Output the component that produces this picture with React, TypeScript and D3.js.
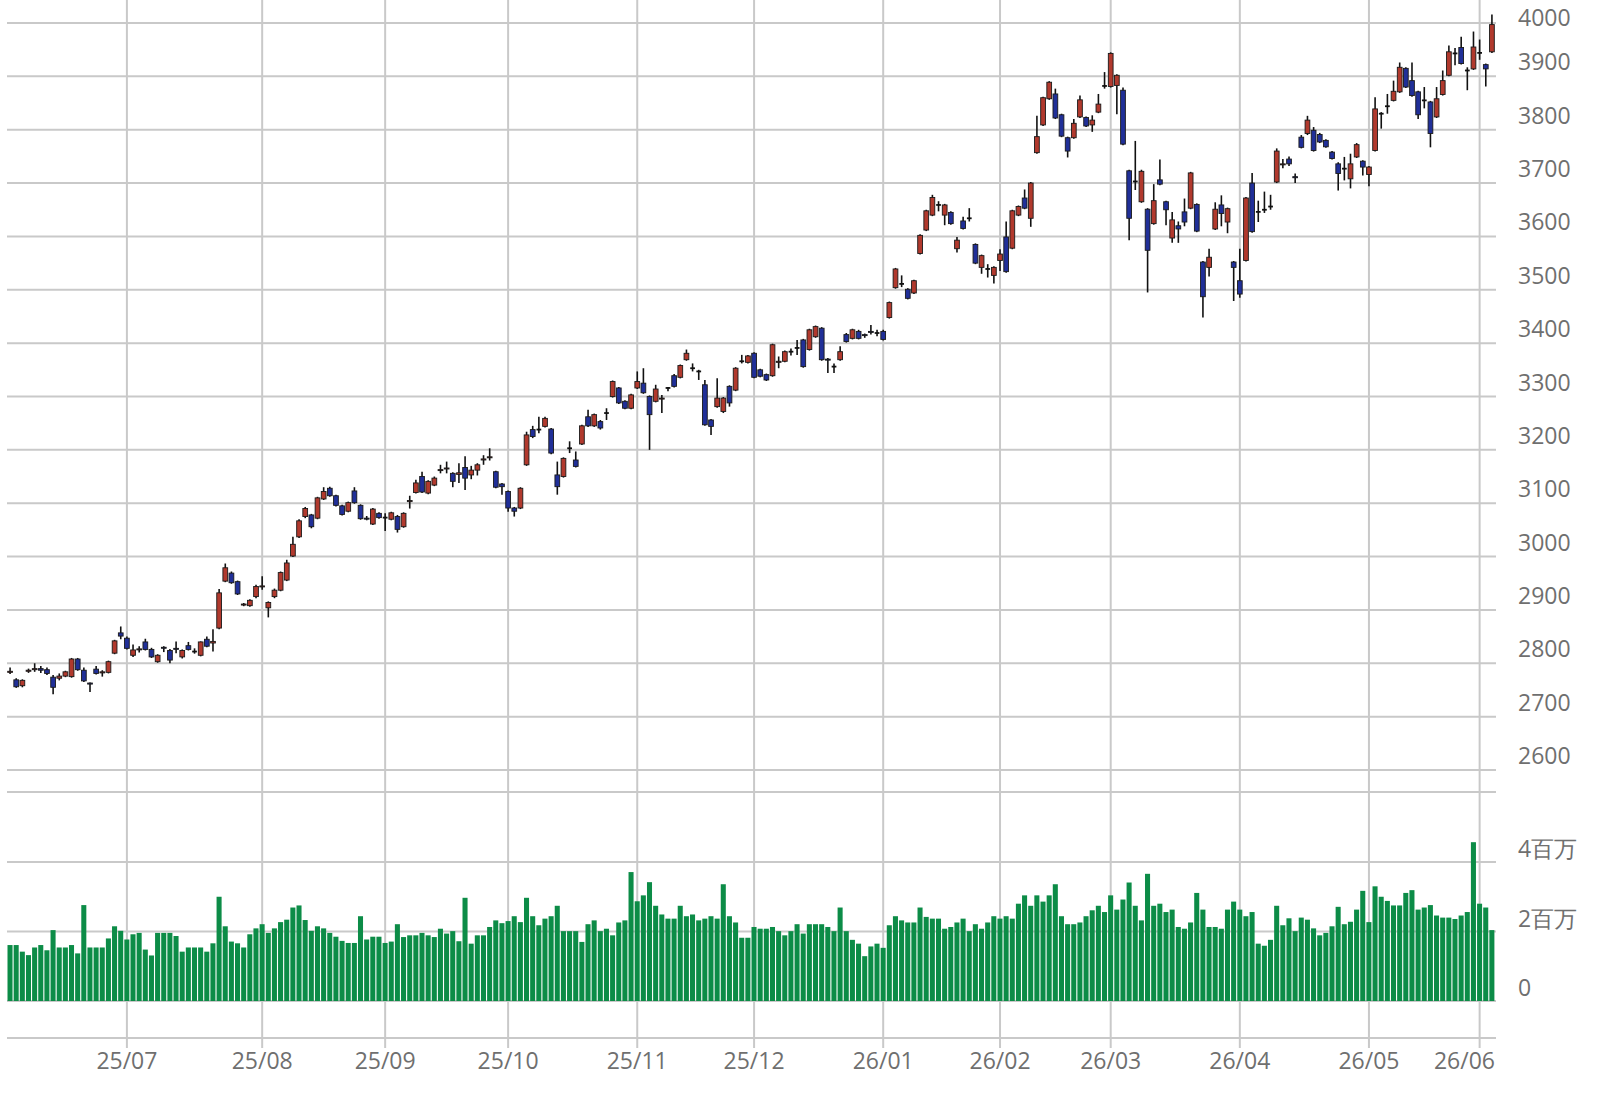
import * as d3 from "d3"
import React from "react"

// bars left in June 2025, then one count per month (Jul 2025 .. Jun 2026)
const monthBars = [19, 22, 20, 20, 21, 19, 21, 19, 18, 21, 21, 18, 3]
const monthLabels = ["25/07", "25/08", "25/09", "25/10", "25/11", "25/12", "26/01", "26/02", "26/03", "26/04", "26/05", "26/06"]

const priceTicks = [2600, 2700, 2800, 2900, 3000, 3100, 3200, 3300, 3400, 3500, 3600, 3700, 3800, 3900, 4000]
const volumeTicks = [0, 2, 4]
const volumeTickLabels = ["0", "2百万", "4百万"]

const open = [
  2783, 2769, 2758, 2785, 2788, 2790, 2788, 2774, 2772, 2776,
  2775, 2808, 2787, 2763, 2789, 2782, 2783, 2819, 2857, 2847,
  2815, 2826, 2840, 2826, 2803, 2830, 2824, 2828, 2812, 2833,
  2822, 2815, 2845, 2838, 2866, 2954, 2969, 2953, 2910, 2908,
  2925, 2944, 2904, 2925, 2937, 2956, 3001, 3037, 3075, 3078,
  3072, 3108, 3128, 3114, 3095, 3085, 3123, 3096, 3072, 3061,
  3081, 3073, 3070, 3075, 3056, 3103, 3120, 3150, 3119, 3134,
  3162, 3165, 3156, 3154, 3167, 3153, 3162, 3181, 3186, 3159,
  3136, 3122, 3091, 3091, 3172, 3238, 3238, 3244, 3239, 3153,
  3150, 3203, 3181, 3211, 3262, 3245, 3253, 3269, 3300, 3316,
  3291, 3278, 3316, 3325, 3300, 3291, 3296, 3316, 3339, 3336,
  3369, 3353, 3347, 3322, 3256, 3281, 3272, 3319, 3312, 3366,
  3364, 3381, 3350, 3341, 3339, 3364, 3366, 3384, 3391, 3406,
  3388, 3412, 3428, 3370, 3356, 3369, 3416, 3409, 3422, 3416,
  3422, 3419, 3422, 3448, 3504, 3511, 3501, 3494, 3568, 3612,
  3640, 3659, 3640, 3645, 3577, 3629, 3634, 3585, 3542, 3539,
  3527, 3555, 3599, 3578, 3640, 3672, 3634, 3757, 3809, 3858,
  3867, 3828, 3785, 3785, 3824, 3823, 3809, 3833, 3882, 3881,
  3883, 3874, 3723, 3703, 3665, 3651, 3624, 3706, 3665, 3597,
  3620, 3646, 3653, 3660, 3552, 3542, 3614, 3659, 3627, 3552,
  3517, 3555, 3700, 3646, 3650, 3656, 3702, 3735, 3745, 3712,
  3786, 3793, 3799, 3791, 3780, 3758, 3736, 3727, 3708, 3749,
  3741, 3716, 3761, 3830, 3844, 3855, 3871, 3915, 3892, 3871,
  3855, 3852, 3824, 3866, 3902, 3943, 3954, 3911, 3914, 3944,
  3922, 3946,
]

const high = [
  2792, 2772, 2770, 2790, 2800, 2795, 2792, 2778, 2781, 2786,
  2810, 2810, 2792, 2764, 2795, 2787, 2805, 2844, 2869, 2850,
  2835, 2832, 2846, 2829, 2817, 2832, 2827, 2841, 2826, 2840,
  2828, 2841, 2850, 2864, 2939, 2987, 2972, 2955, 2913, 2920,
  2947, 2963, 2916, 2940, 2972, 2994, 3037, 3070, 3093, 3080,
  3112, 3130, 3131, 3116, 3097, 3103, 3130, 3098, 3076, 3091,
  3083, 3081, 3084, 3078, 3083, 3114, 3144, 3159, 3143, 3150,
  3172, 3178, 3158, 3175, 3188, 3170, 3175, 3190, 3203, 3161,
  3138, 3124, 3093, 3130, 3234, 3245, 3262, 3262, 3241, 3178,
  3186, 3216, 3197, 3247, 3275, 3268, 3256, 3278, 3330, 3318,
  3293, 3305, 3347, 3353, 3302, 3322, 3303, 3318, 3342, 3360,
  3388, 3362, 3350, 3331, 3258, 3334, 3299, 3321, 3355, 3378,
  3378, 3383, 3352, 3343, 3399, 3375, 3386, 3390, 3406, 3408,
  3427, 3433, 3430, 3372, 3362, 3394, 3419, 3427, 3425, 3418,
  3434, 3425, 3425, 3478, 3541, 3527, 3503, 3519, 3604, 3650,
  3678, 3666, 3661, 3647, 3599, 3637, 3653, 3587, 3566, 3548,
  3544, 3576, 3628, 3650, 3658, 3688, 3702, 3826, 3862, 3891,
  3877, 3830, 3787, 3820, 3864, 3825, 3827, 3867, 3908, 3945,
  3904, 3879, 3725, 3779, 3725, 3653, 3698, 3744, 3667, 3646,
  3628, 3671, 3721, 3662, 3554, 3577, 3664, 3677, 3654, 3554,
  3577, 3674, 3719, 3667, 3684, 3678, 3765, 3745, 3750, 3718,
  3790, 3826, 3805, 3794, 3782, 3760, 3739, 3749, 3755, 3775,
  3743, 3732, 3861, 3833, 3867, 3892, 3926, 3917, 3926, 3873,
  3880, 3854, 3880, 3911, 3958, 3953, 3974, 3917, 3984, 3969,
  3924, 4016,
]

const low = [
  2780, 2754, 2755, 2782, 2784, 2782, 2778, 2742, 2768, 2774,
  2773, 2786, 2765, 2746, 2779, 2775, 2781, 2817, 2845, 2826,
  2812, 2820, 2824, 2810, 2801, 2821, 2800, 2819, 2809, 2824,
  2818, 2813, 2830, 2822, 2864, 2952, 2949, 2928, 2907, 2906,
  2922, 2938, 2886, 2922, 2935, 2954, 2999, 3035, 3072, 3053,
  3070, 3106, 3112, 3094, 3077, 3083, 3099, 3069, 3068, 3059,
  3071, 3048, 3068, 3045, 3054, 3090, 3118, 3119, 3117, 3132,
  3156, 3156, 3130, 3138, 3125, 3145, 3152, 3172, 3180, 3128,
  3116, 3084, 3075, 3089, 3170, 3222, 3231, 3242, 3192, 3116,
  3148, 3194, 3167, 3209, 3243, 3243, 3238, 3256, 3298, 3286,
  3276, 3276, 3314, 3305, 3200, 3289, 3269, 3310, 3317, 3334,
  3367, 3347, 3331, 3245, 3228, 3279, 3269, 3281, 3310, 3362,
  3362, 3334, 3336, 3329, 3337, 3353, 3364, 3377, 3378, 3354,
  3386, 3410, 3367, 3344, 3344, 3367, 3401, 3407, 3407, 3410,
  3416, 3413, 3405, 3446, 3502, 3505, 3482, 3492, 3566, 3610,
  3638, 3647, 3621, 3622, 3570, 3613, 3628, 3548, 3530, 3523,
  3512, 3535, 3532, 3576, 3638, 3651, 3618, 3755, 3807, 3856,
  3820, 3786, 3748, 3783, 3822, 3805, 3796, 3831, 3877, 3879,
  3829, 3771, 3593, 3687, 3663, 3495, 3622, 3696, 3621, 3588,
  3588, 3619, 3651, 3608, 3448, 3525, 3612, 3619, 3606, 3479,
  3485, 3553, 3607, 3627, 3644, 3650, 3700, 3728, 3732, 3700,
  3765, 3790, 3759, 3775, 3766, 3744, 3686, 3705, 3690, 3747,
  3714, 3694, 3759, 3802, 3830, 3853, 3869, 3878, 3862, 3820,
  3840, 3767, 3822, 3864, 3900, 3921, 3922, 3874, 3912, 3931,
  3881, 3944,
]

const close = [
  2785, 2756, 2768, 2787, 2790, 2787, 2781, 2755, 2776, 2784,
  2808, 2788, 2767, 2761, 2781, 2784, 2803, 2842, 2851, 2828,
  2825, 2827, 2826, 2812, 2815, 2829, 2806, 2827, 2824, 2826,
  2822, 2840, 2832, 2841, 2932, 2979, 2951, 2930, 2911, 2918,
  2944, 2945, 2914, 2937, 2970, 2988, 3023, 3067, 3090, 3056,
  3110, 3122, 3114, 3096, 3079, 3101, 3101, 3071, 3071, 3089,
  3073, 3073, 3082, 3051, 3081, 3105, 3138, 3121, 3141, 3147,
  3163, 3166, 3141, 3157, 3147, 3162, 3172, 3183, 3187, 3130,
  3131, 3091, 3085, 3128, 3228, 3225, 3238, 3259, 3194, 3131,
  3184, 3203, 3169, 3245, 3245, 3266, 3241, 3269, 3328, 3288,
  3278, 3303, 3328, 3307, 3266, 3314, 3297, 3316, 3319, 3358,
  3381, 3353, 3347, 3247, 3244, 3297, 3297, 3288, 3353, 3366,
  3376, 3336, 3338, 3331, 3397, 3366, 3384, 3384, 3391, 3356,
  3425, 3431, 3369, 3369, 3356, 3384, 3403, 3425, 3409, 3415,
  3421, 3419, 3407, 3476, 3539, 3511, 3484, 3517, 3602, 3648,
  3673, 3659, 3659, 3624, 3593, 3615, 3634, 3550, 3564, 3539,
  3542, 3567, 3534, 3648, 3656, 3653, 3700, 3787, 3860, 3889,
  3822, 3788, 3760, 3812, 3856, 3807, 3818, 3848, 3882, 3943,
  3902, 3773, 3634, 3703, 3722, 3574, 3667, 3698, 3650, 3631,
  3614, 3627, 3719, 3610, 3487, 3561, 3651, 3643, 3652, 3542,
  3492, 3672, 3609, 3646, 3650, 3656, 3760, 3736, 3736, 3710,
  3767, 3818, 3761, 3777, 3768, 3746, 3718, 3727, 3736, 3772,
  3730, 3730, 3839, 3830, 3844, 3872, 3917, 3880, 3864, 3828,
  3855, 3793, 3858, 3892, 3946, 3943, 3924, 3911, 3955, 3944,
  3914, 3997,
]

// volume, millions of shares
const volume = [
  1.61, 1.61, 1.42, 1.32, 1.54, 1.61, 1.46, 2.04, 1.54, 1.54,
  1.61, 1.37, 2.76, 1.54, 1.54, 1.54, 1.80, 2.15, 2.02, 1.77,
  1.92, 1.96, 1.48, 1.31, 1.96, 1.96, 1.96, 1.87, 1.42, 1.54,
  1.54, 1.54, 1.42, 1.66, 3.00, 2.15, 1.71, 1.66, 1.54, 1.92,
  2.09, 2.21, 1.96, 2.09, 2.27, 2.34, 2.69, 2.75, 2.33, 2.02,
  2.15, 2.09, 1.96, 1.85, 1.73, 1.67, 1.67, 2.44, 1.77, 1.85,
  1.85, 1.67, 1.71, 2.21, 1.84, 1.89, 1.89, 1.96, 1.89, 1.84,
  2.08, 1.94, 2.01, 1.72, 2.97, 1.65, 1.89, 1.89, 2.13, 2.32,
  2.24, 2.30, 2.44, 2.27, 2.97, 2.44, 2.18, 2.37, 2.44, 2.74,
  2.01, 2.01, 2.01, 1.70, 2.21, 2.32, 2.01, 2.08, 1.89, 2.26,
  2.32, 3.71, 2.87, 3.04, 3.42, 2.74, 2.49, 2.37, 2.37, 2.74,
  2.44, 2.49, 2.32, 2.37, 2.44, 2.37, 3.36, 2.44, 2.26, 1.82,
  1.82, 2.13, 2.08, 2.08, 2.13, 2.01, 1.89, 2.01, 2.21, 1.94,
  2.21, 2.21, 2.21, 2.13, 2.01, 2.69, 2.01, 1.76, 1.65, 1.29,
  1.57, 1.65, 1.53, 2.18, 2.44, 2.32, 2.26, 2.26, 2.69, 2.42,
  2.37, 2.37, 2.08, 2.13, 2.26, 2.37, 2.01, 2.21, 2.08, 2.26,
  2.44, 2.37, 2.44, 2.37, 2.80, 3.04, 2.74, 3.04, 2.86, 3.04,
  3.36, 2.44, 2.21, 2.21, 2.26, 2.44, 2.61, 2.74, 2.56, 3.04,
  2.63, 2.92, 3.41, 2.74, 2.32, 3.66, 2.74, 2.80, 2.56, 2.63,
  2.13, 2.08, 2.26, 3.11, 2.63, 2.13, 2.13, 2.08, 2.63, 2.86,
  2.63, 2.44, 2.56, 1.65, 1.59, 1.76, 2.74, 2.18, 2.38, 2.01,
  2.40, 2.34, 2.09, 1.89, 1.96, 2.15, 2.71, 2.21, 2.28, 2.63,
  3.17, 2.27, 3.30, 3.00, 2.88, 2.75, 2.75, 3.11, 3.19, 2.63,
  2.69, 2.76, 2.46, 2.40, 2.40, 2.36, 2.46, 2.56, 4.57, 2.80,
  2.69, 2.04,
]

const W = 1600
const H = 1099
const left = 7
const right = 1495
const gridRight = 1496
const priceTop = 23
const priceBottom = 770
const priceFrame = 792
const volTop = 862
const volBottom = 1001
const volFrame = 1038
const vGridBottom = 1048
const labelX = 1518

const UP = "#b1392d"
const DOWN = "#202f98"
const GRID = "#c9c9c9"
const TEXT = "#6f6f6f"
const VOL = "#0c8c47"

const App = () => {
  const n = close.length
  const x = d3.scaleBand<number>().domain(d3.range(n)).range([left, right]).padding(0)
  const y = d3.scaleLinear().domain([2600, 4000]).range([priceBottom, priceTop])
  const v = d3.scaleLinear().domain([0, 4]).range([volBottom, volTop])
  const bw = x.bandwidth()
  const tickIdx = Array.from(d3.cumsum(monthBars)).slice(0, monthLabels.length)
  const cx = (i: number) => (x(i) as number) + bw / 2

  const font = { fontFamily: "'Open Sans', 'Noto Sans', sans-serif", fontSize: 23, fill: TEXT }

  return (
    <svg width={W} height={H} viewBox={`0 0 ${W} ${H}`}
      style={{ position: "absolute", left: 0, top: 0, background: "#fff" }}>
      <rect x={0} y={0} width={W} height={H} fill="#fff" />
      <g stroke={GRID} strokeWidth={2}>
        {tickIdx.map((t, k) => (
          <line key={"v" + k} x1={cx(t)} x2={cx(t)} y1={0} y2={vGridBottom} />
        ))}
        {priceTicks.map(p => (
          <line key={"p" + p} x1={left} x2={gridRight} y1={y(p)} y2={y(p)} />
        ))}
        <line x1={left} x2={gridRight} y1={priceFrame} y2={priceFrame} />
        {volumeTicks.map(t => (
          <line key={"vt" + t} x1={left} x2={gridRight} y1={v(t)} y2={v(t)} />
        ))}
        <line x1={left} x2={gridRight} y1={volFrame} y2={volFrame} />
      </g>

      <g fill={VOL}>
        {volume.map((d, i) => (
          <rect key={i} x={(x(i) as number) + 0.5} y={v(d)} width={bw - 1.1} height={v(0) - v(d)} />
        ))}
      </g>

      <g>
        {close.map((c, i) => {
          const o = open[i]
          const up = c >= o
          const top = y(Math.max(o, c))
          const bot = y(Math.min(o, c))
          const mid = cx(i)
          const bodyW = bw - 1.4
          return (
            <g key={i}>
              <line x1={mid} x2={mid} y1={y(high[i])} y2={y(low[i])} stroke="#111" strokeWidth={1.6} />
              {o === c ? (
                <line x1={mid - bodyW / 2} x2={mid + bodyW / 2} y1={top} y2={top} stroke="#111" strokeWidth={1.8} />
              ) : (
                <rect x={mid - bodyW / 2} y={top} width={bodyW} height={Math.max(1, bot - top)}
                  fill={up ? UP : DOWN} stroke="#1a1a1a" strokeWidth={0.9} />
              )}
            </g>
          )
        })}
      </g>

      <g style={font}>
        {priceTicks.map(p => (
          <text key={"pl" + p} x={labelX} y={Math.max(y(p) - 6, 26)}>{p}</text>
        ))}
        {volumeTicks.map((t, k) => (
          <text key={"vl" + t} x={labelX} y={v(t) - 5}>{volumeTickLabels[k]}</text>
        ))}
        {tickIdx.map((t, k) => {
          const px = cx(t)
          const nearEdge = px + 34 > right
          return (
            <text key={"ml" + k} x={nearEdge ? right : px} y={1069}
              textAnchor={nearEdge ? "end" : "middle"}>{monthLabels[k]}</text>
          )
        })}
      </g>
    </svg>
  )
}

export default App
